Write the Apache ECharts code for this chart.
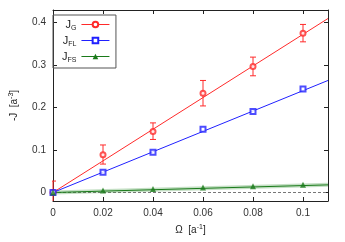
<!DOCTYPE html>
<html><head><meta charset="utf-8">
<script src="https://cdn.jsdelivr.net/npm/echarts@6/dist/echarts.min.js"></script>
<style>html,body{margin:0;padding:0;background:#fff}#c{width:345px;height:242px}</style>
</head><body><div id="c"></div>
<script>
// ---- data ----
var omega = [0, 0.02, 0.04, 0.06, 0.08, 0.1];
var jG = [0.0, 0.089, 0.144, 0.234, 0.297, 0.375];
var jGLow = [-0.027, 0.067, 0.125, 0.204, 0.275, 0.355];
var jGHigh = [0.027, 0.112, 0.164, 0.264, 0.319, 0.396];
var jFL = [0.0, 0.048, 0.095, 0.149, 0.191, 0.244];
var jFS = [0.0, 0.005, 0.008, 0.012, 0.015, 0.018];
var fitX = [0, 0.11];
var fitG = [0, 0.41];
var fitFL = [0, 0.264];
var fitFS = [0, 0.018];
var xTicks = [0, 0.02, 0.04, 0.06, 0.08, 0.1];
var yTicks = [0, 0.1, 0.2, 0.3, 0.4];
var legendNames = {JG: '{m|J}{s|G}', JFL: '{m|J}{s|FL}', JFS: '{m|J}{s|FS}'};

function pairs(xs, ys) { return xs.map(function (x, i) { return [x, ys[i]]; }); }

var RED = '#ff2a2a', BLUE = '#2020ff', GREEN = '#1a7a1a';
var axisCol = '#222';
var chart = echarts.init(document.getElementById('c'));
function ax(o) {
  o.axisLine = {show: true, onZero: false, lineStyle: {color: axisCol, width: 1}};
  o.splitLine = {show: false};
  return o;
}
chart.setOption({
  animation: false,
  textStyle: {fontFamily: 'Liberation Sans, Arial, sans-serif'},
  grid: {left: 47, right: 17, top: 10, bottom: 41, show: false},
  legend: {
    data: ['JG', 'JFL', 'JFS'],
    orient: 'vertical', left: 53, top: 15,
    align: 'right', itemWidth: 28, itemHeight: 7, itemGap: 3,
    padding: [4, 6, 4, 9],
    borderColor: '#555', borderWidth: 1,
    itemStyle: {borderWidth: 1},
    lineStyle: {width: 1},
    formatter: function (n) { return legendNames[n]; },
    textStyle: {
      color: '#222',
      rich: {
        m: {fontSize: 11, color: '#222', verticalAlign: 'bottom'},
        s: {fontSize: 7, color: '#222', verticalAlign: 'bottom', padding: [0, 0, -2, 0]}
      }
    }
  },
  xAxis: [
    ax({type: 'value', min: 0, max: 0.11, position: 'bottom',
      axisTick: {show: true, inside: true, length: 4, customValues: xTicks, lineStyle: {color: axisCol}},
      axisLabel: {customValues: xTicks, color: '#333', fontSize: 10, margin: 7},
      name: 'Ω  [a{sup|-1}]', nameLocation: 'middle', nameGap: 23,
      nameTextStyle: {color: '#222', fontSize: 10, rich: {sup: {fontSize: 7, verticalAlign: 'top', padding: [0, 0, 6, 0]}}}
    }),
    ax({type: 'value', min: 0, max: 0.11, position: 'top',
      axisTick: {show: true, inside: true, length: 4, customValues: xTicks, lineStyle: {color: axisCol}},
      axisLabel: {show: false}
    })
  ],
  yAxis: [
    ax({type: 'value', min: -0.02, max: 0.43, position: 'left',
      axisTick: {show: true, inside: true, length: 4, customValues: yTicks, lineStyle: {color: axisCol}},
      axisLabel: {customValues: yTicks, color: '#333', fontSize: 10, margin: 7},
      name: '-J  [a{sup|-3}]', nameLocation: 'middle', nameGap: 32,
      nameTextStyle: {color: '#222', fontSize: 10, rich: {sup: {fontSize: 7, verticalAlign: 'top', padding: [0, 0, 6, 0]}}}
    }),
    ax({type: 'value', min: -0.02, max: 0.43, position: 'right',
      axisTick: {show: true, inside: true, length: 4, customValues: yTicks, lineStyle: {color: axisCol}},
      axisLabel: {show: false}
    })
  ],
  series: [
    {type: 'line', name: 'zero', data: pairs(fitX, [0, 0]), symbol: 'none', silent: true,
      lineStyle: {color: '#777', width: 1, type: [3, 2]}, z: 1},
    {type: 'line', name: 'JFSband', data: pairs(fitX, fitFS), symbol: 'none', silent: true,
      lineStyle: {color: 'rgba(60,150,60,0.3)', width: 4}, z: 1},
    {type: 'line', name: 'JG', data: pairs(fitX, fitG), symbol: 'emptyCircle', showSymbol: false,
      itemStyle: {color: RED}, lineStyle: {color: RED, width: 1}, z: 2},
    {type: 'line', name: 'JFL', data: pairs(fitX, fitFL), symbol: 'emptyRect', showSymbol: false,
      itemStyle: {color: BLUE}, lineStyle: {color: BLUE, width: 1}, z: 2},
    {type: 'line', name: 'JFS', data: pairs(fitX, fitFS), symbol: 'triangle', showSymbol: false,
      itemStyle: {color: GREEN}, lineStyle: {color: GREEN, width: 1}, z: 2},
    {type: 'custom', name: 'JGerr', clip: true, z: 3,
      data: omega.map(function (x, i) { return [x, jGLow[i], jGHigh[i]]; }),
      renderItem: function (params, api) {
        var lo = api.coord([api.value(0), api.value(1)]);
        var hi = api.coord([api.value(0), api.value(2)]);
        var w = 3;
        return {type: 'group', children: [
          {type: 'line', shape: {x1: lo[0], y1: lo[1], x2: hi[0], y2: hi[1]}, style: {stroke: RED, lineWidth: 1}},
          {type: 'line', shape: {x1: lo[0] - w, y1: lo[1], x2: lo[0] + w, y2: lo[1]}, style: {stroke: RED, lineWidth: 1}},
          {type: 'line', shape: {x1: hi[0] - w, y1: hi[1], x2: hi[0] + w, y2: hi[1]}, style: {stroke: RED, lineWidth: 1}}
        ]};
      }
    },
    {type: 'scatter', name: 'JGpts', data: pairs(omega, jG), symbol: 'emptyCircle', symbolSize: 5,
      itemStyle: {color: RED, borderColor: RED, borderWidth: 1}, z: 4},
    {type: 'scatter', name: 'JFLpts', data: pairs(omega, jFL), symbol: 'emptyRect', symbolSize: 5,
      itemStyle: {color: BLUE, borderColor: BLUE, borderWidth: 1}, z: 4},
    {type: 'scatter', name: 'JFSpts', data: pairs(omega, jFS), symbol: 'triangle', symbolSize: 6,
      itemStyle: {color: GREEN}, z: 4}
  ]
});
</script></body></html>
